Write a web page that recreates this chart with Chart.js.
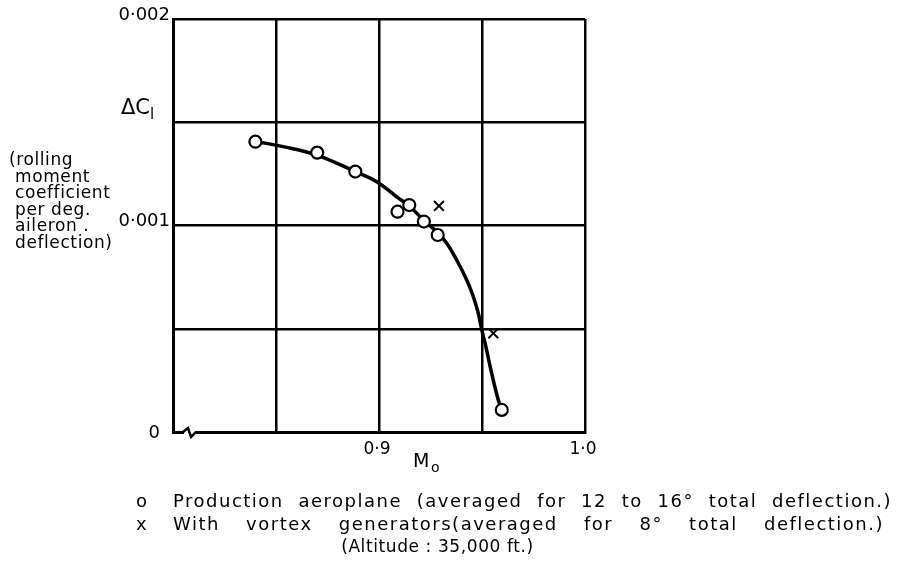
<!DOCTYPE html>
<html>
<head>
<meta charset="utf-8">
<script src="https://cdn.jsdelivr.net/npm/chart.js@4/dist/chart.umd.min.js"></script>
<style>
  body { margin: 0; background: #fff; }
  #wrap { position: relative; width: 907px; height: 570px; font-family: "DejaVu Sans", sans-serif; color: #000; }
  #chart { position: absolute; left: 0; top: 0; }
  .lbl { position: absolute; white-space: nowrap; }
  #ytitle { left: 121px; top: 95px; font-size: 21px; }
  #ydesc { left: 9px; top: 151px; font-size: 17px; line-height: 16.5px; letter-spacing: 0.6px; }
  .leg { left: 136px; font-size: 18px; letter-spacing: 1.5px; }
  #leg1 { top: 490px; word-spacing: 7.5px; }
  #leg2 { top: 513px; word-spacing: 19px; }
  #alt { left: 0; width: 875px; text-align: center; top: 536px; font-size: 17px; letter-spacing: 0.6px; }
  .sym { display: inline-block; width: 37px; }
</style>
</head>
<body>
<div id="wrap">
  <canvas id="chart" width="907" height="570"></canvas>
  <div class="lbl" id="ytitle">ΔC<sub style="font-size:15px">l</sub></div>
  <div class="lbl" id="ydesc">(rolling<br>&nbsp;moment<br>&nbsp;coefficient<br>&nbsp;per deg.<br>&nbsp;aileron .<br>&nbsp;deflection)</div>
  <div class="lbl leg" id="leg1"><span class="sym">o</span>Production aeroplane (averaged for 12 to 16° total deflection.)</div>
  <div class="lbl leg" id="leg2"><span class="sym">x</span>With vortex generators(averaged for 8° total deflection.)</div>
  <div class="lbl" id="alt">(Altitude : 35,000 ft.)</div>
</div>
<script>
// Production aeroplane points (Mach number, rolling moment coefficient)
const productionMach = [0.840, 0.870, 0.8885, 0.909, 0.9147, 0.9218, 0.9285, 0.9596];
const productionCl   = [0.001406, 0.001353, 0.001261, 0.001067, 0.001099, 0.001019, 0.000954, 0.000107];

// With vortex generators
const vortexMach = [0.9291, 0.9555];
const vortexCl   = [0.001095, 0.000478];

// Faired curve through the production points
const curveMach = [0.8406, 0.8535, 0.8698, 0.8885, 0.8989, 0.9086, 0.9151, 0.9215, 0.9280,
                   0.9329, 0.9377, 0.9426, 0.9458, 0.9482, 0.9499, 0.9515, 0.9547, 0.9579, 0.9596];
const curveCl   = [0.001406, 0.001382, 0.001341, 0.001261, 0.001212, 0.001139, 0.001091, 0.001027, 0.000970,
                   0.000914, 0.000833, 0.000736, 0.000655, 0.000575, 0.000494, 0.000430, 0.000284, 0.000155, 0.000107];

// Tick labels shown on the axes
const xTickValues = [0.9, 1.0];
const xTickLabels = ['0·9', '1·0'];
const yTickValues = [0, 0.001, 0.002];
const yTickLabels = ['0', '0·001', '0·002'];

function toPoints(xs, ys) {
    return xs.map((x, i) => ({ x: x, y: ys[i] }));
}

// Draws tick labels, axis name and the axis-break mark
const axisDecor = {
    id: 'axisDecor',
    afterDraw(chart) {
        const ctx = chart.ctx;
        const xs = chart.scales.x;
        const ys = chart.scales.y;
        const area = chart.chartArea;
        ctx.save();
        ctx.fillStyle = '#000';
        ctx.font = '17px "DejaVu Sans"';
        ctx.textAlign = 'center';
        ctx.textBaseline = 'top';
        xTickValues.forEach((v, i) => {
            ctx.fillText(xTickLabels[i], xs.getPixelForValue(v) - 2, area.bottom + 9);
        });
        ctx.textAlign = 'right';
        ctx.textBaseline = 'middle';
        ctx.font = '18px "DejaVu Sans"';
        yTickValues.forEach((v, i) => {
            ctx.fillText(yTickLabels[i], area.left - (v === 0 ? 13 : 3), ys.getPixelForValue(v) - (v === 0 ? -1 : 4));
        });
        // M_o axis name
        ctx.textAlign = 'left';
        ctx.textBaseline = 'alphabetic';
        ctx.font = '19px "DejaVu Sans"';
        ctx.fillText('M', 413, 467);
        ctx.font = '14px "DejaVu Sans"';
        ctx.fillText('o', 431, 472);
        // break mark on the x axis
        const b = area.bottom;
        ctx.strokeStyle = '#fff';
        ctx.lineWidth = 5;
        ctx.beginPath();
        ctx.moveTo(184, b);
        ctx.lineTo(195, b);
        ctx.stroke();
        ctx.strokeStyle = '#000';
        ctx.lineWidth = 2.5;
        ctx.beginPath();
        ctx.moveTo(183, b);
        ctx.lineTo(188, b - 4);
        ctx.lineTo(191, b + 5);
        ctx.lineTo(196, b);
        ctx.stroke();
        ctx.restore();
    }
};

new Chart(document.getElementById('chart').getContext('2d'), {
    type: 'scatter',
    data: {
        datasets: [
            {
                label: 'Faired curve',
                data: toPoints(curveMach, curveCl),
                showLine: true,
                borderColor: '#000',
                borderWidth: 3.5,
                pointRadius: 0,
                tension: 0.4,
                order: 3
            },
            {
                label: 'Production aeroplane',
                data: toPoints(productionMach, productionCl),
                pointStyle: 'circle',
                pointRadius: 6,
                borderWidth: 2.2,
                borderColor: '#000',
                backgroundColor: '#fff',
                order: 1
            },
            {
                label: 'With vortex generators',
                data: toPoints(vortexMach, vortexCl),
                pointStyle: 'crossRot',
                pointRadius: 7,
                borderWidth: 2,
                borderColor: '#000',
                order: 2
            }
        ]
    },
    options: {
        responsive: false,
        animation: false,
        layout: { padding: { left: 173, right: 322, top: 19, bottom: 138 } },
        plugins: {
            legend: { display: false },
            tooltip: { enabled: false }
        },
        scales: {
            x: {
                type: 'linear',
                min: 0.8,
                max: 1.0,
                ticks: { stepSize: 0.05, display: false },
                grid: { color: '#000', lineWidth: 2.5, drawTicks: false },
                border: { color: '#000', width: 3 }
            },
            y: {
                type: 'linear',
                min: 0,
                max: 0.002,
                ticks: { stepSize: 0.0005, display: false },
                grid: { color: '#000', lineWidth: 2.5, drawTicks: false },
                border: { color: '#000', width: 3 }
            }
        }
    },
    plugins: [axisDecor]
});
</script>
</body>
</html>
